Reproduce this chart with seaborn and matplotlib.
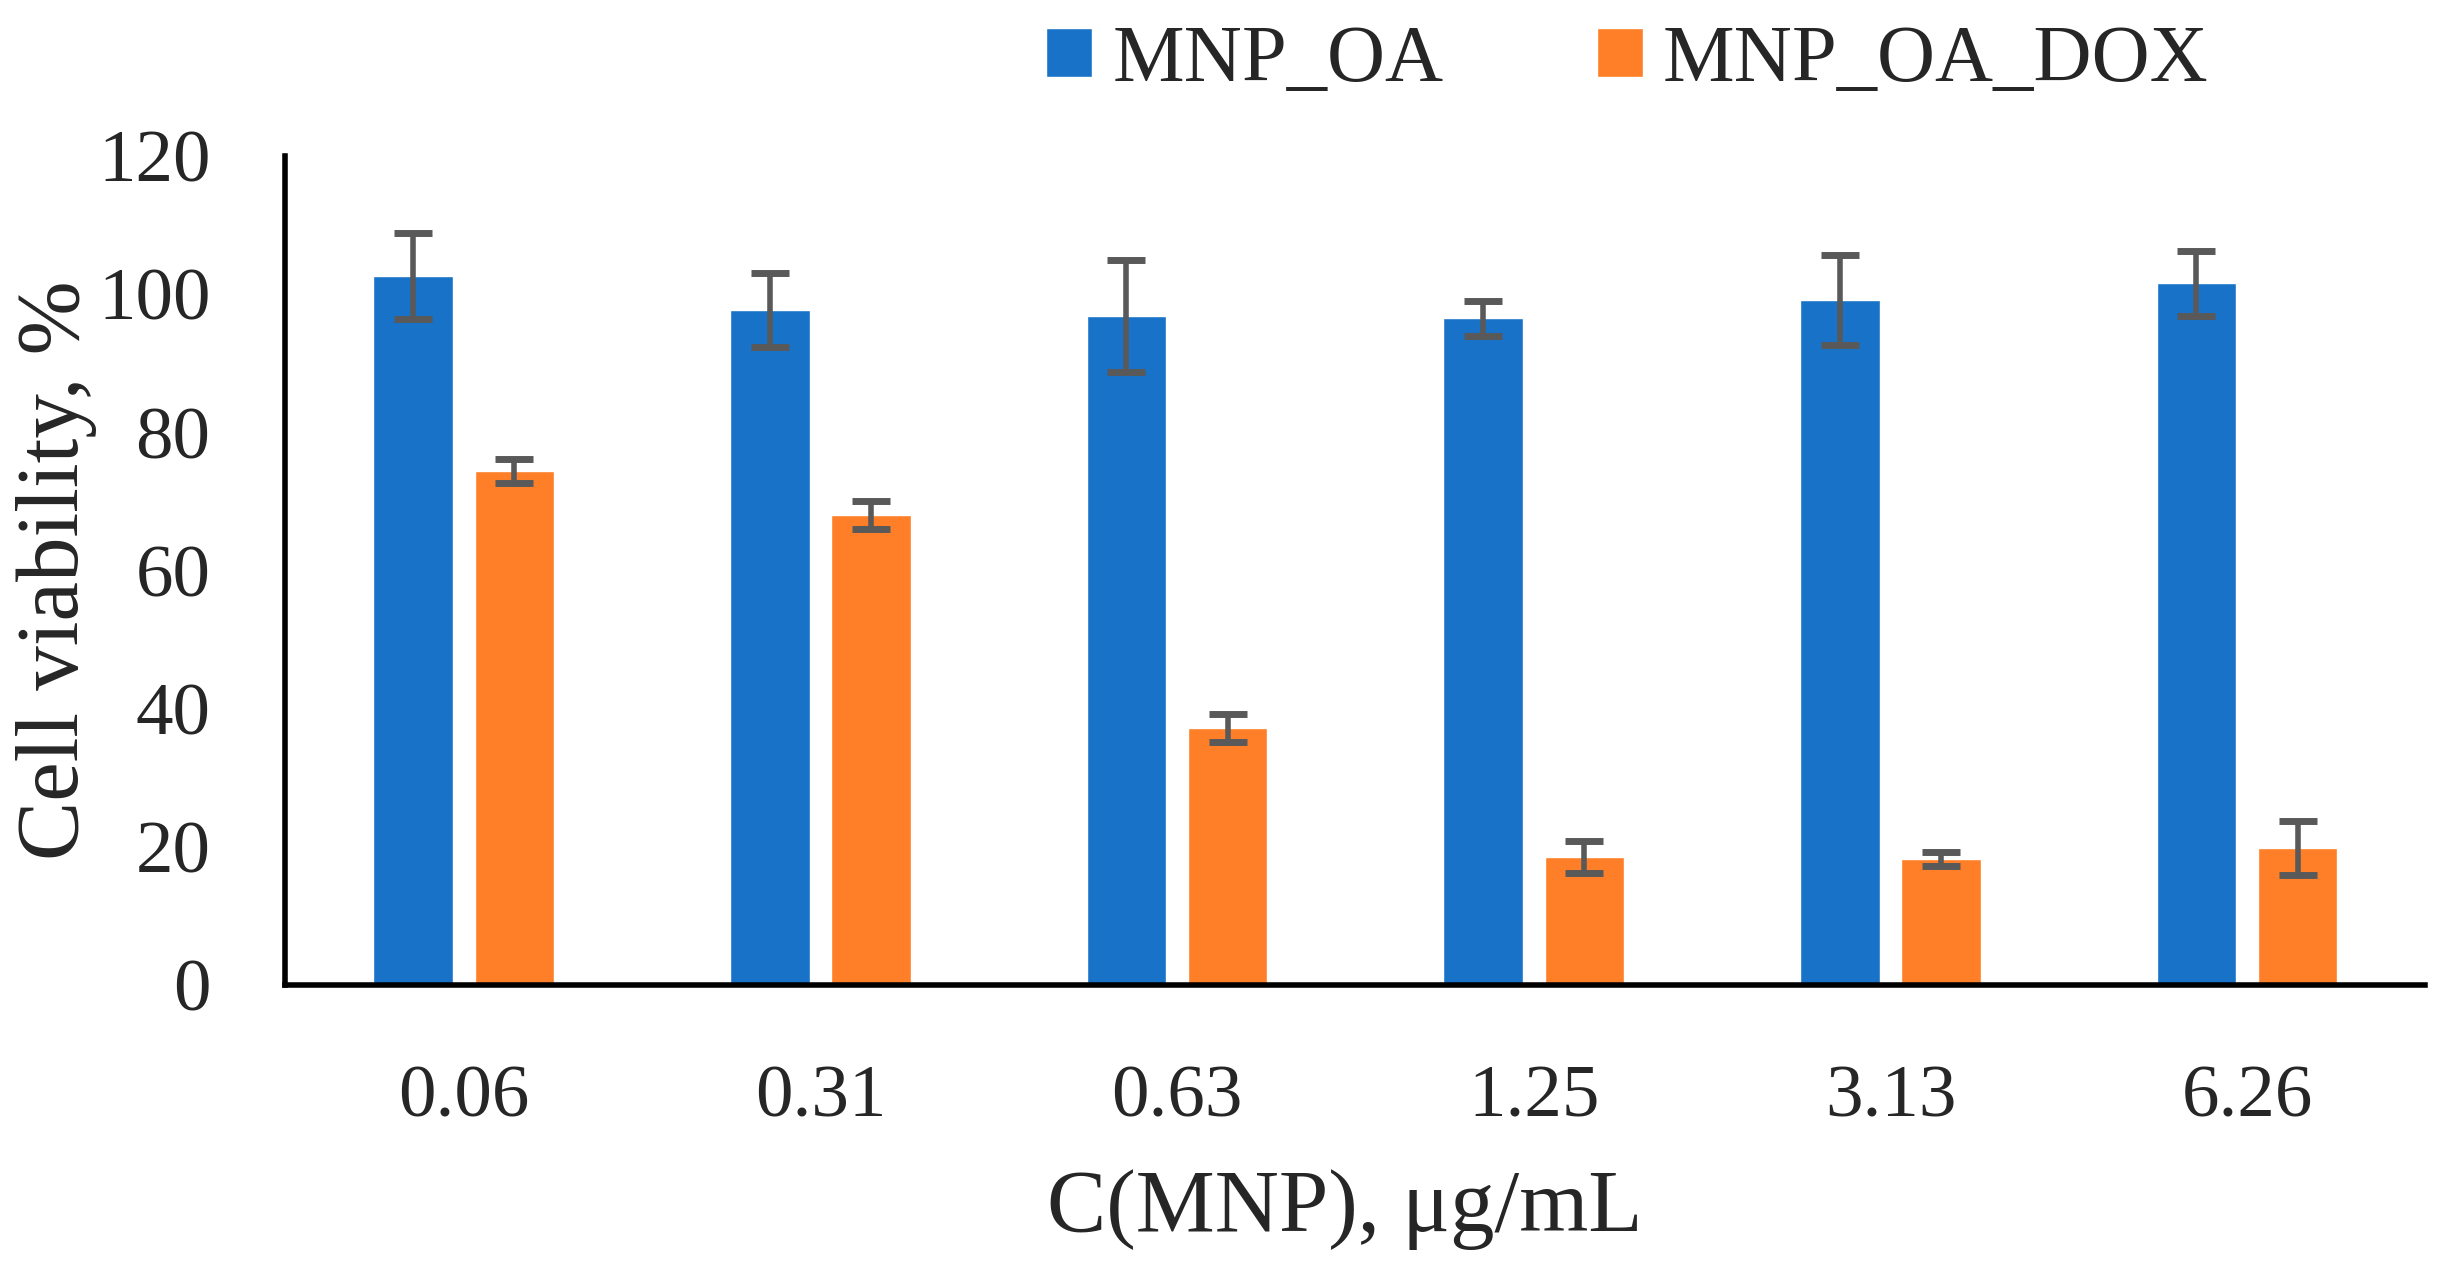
import matplotlib
matplotlib.use("Agg")
import matplotlib.pyplot as plt
import seaborn as sns
import pandas as pd

categories = ["0.06", "0.31", "0.63", "1.25", "3.13", "6.26"]
series_names = ["MNP_OA", "MNP_OA_DOX"]
mnp_oa = [102.6, 97.7, 96.9, 96.5, 99.1, 101.6]
mnp_oa_err = [6.2, 5.3, 8.1, 2.5, 6.5, 4.7]
mnp_oa_dox = [74.4, 68.0, 37.2, 18.5, 18.2, 19.8]
mnp_oa_dox_err = [1.7, 2.0, 2.0, 2.3, 1.0, 3.9]
yticks = [0, 20, 40, 60, 80, 100, 120]

sns.set_style("white")
plt.rcParams['font.family'] = ['Liberation Serif', 'DejaVu Serif']

df = pd.DataFrame({
    "conc": categories * 2,
    "series": [series_names[0]] * 6 + [series_names[1]] * 6,
    "value": mnp_oa + mnp_oa_dox,
})

colors = ["#1873C8", "#FE7F27"]
fig = plt.figure(figsize=(24.4, 12.79), dpi=100)
ax = fig.add_axes([0.117, 0.230, 0.877, 0.648])

sns.barplot(data=df, x="conc", y="value", hue="series", hue_order=series_names,
            order=categories, palette=colors, width=0.568, gap=0.215,
            errorbar=None, legend=False, ax=ax, saturation=1)

bar_containers = list(ax.containers)
errs = [mnp_oa_err, mnp_oa_dox_err]
vals = [mnp_oa, mnp_oa_dox]
for i, cont in enumerate(bar_containers):
    xs = [p.get_x() + p.get_width() / 2 for p in cont.patches]
    ax.errorbar(xs, vals[i], yerr=errs[i], fmt="none", ecolor="#595959",
                elinewidth=4, capsize=14, capthick=5, zorder=5)

ax.set_xlim(-0.5, 5.5)
ax.set_ylim(0, 120)
ax.set_yticks(yticks)
ax.set_yticklabels([str(t) for t in yticks])
ax.tick_params(axis="both", length=0, labelsize=54)
ax.tick_params(axis="y", pad=54)
ax.tick_params(axis="x", pad=58)
for s in ["top", "right"]:
    ax.spines[s].set_visible(False)
for s in ["left", "bottom"]:
    ax.spines[s].set_color("black")
    ax.spines[s].set_linewidth(4)

ax.set_ylabel("Cell viability, %", fontsize=64)
ax.set_xlabel("C(MNP), μg/mL", fontsize=64)
ax.yaxis.set_label_coords(-0.088, 0.5)
ax.xaxis.set_label_coords(0.495, -0.222)

handles = [c.patches[0] for c in bar_containers]
fig.legend(handles, series_names, loc="center", bbox_to_anchor=(0.667, 0.952),
           ncol=2, frameon=False, fontsize=58, handlelength=0.57,
           handleheight=0.57, handletextpad=0.25, columnspacing=1.9)

fig.savefig("out.png", dpi=100, facecolor="white")
